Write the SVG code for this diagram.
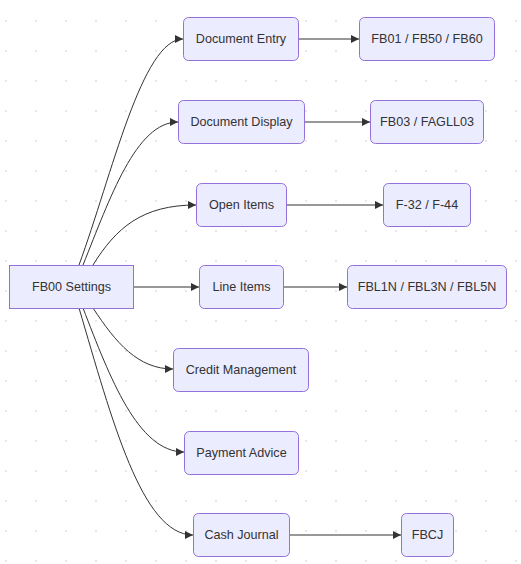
<svg xmlns="http://www.w3.org/2000/svg" width="521" height="564" viewBox="0 0 521 564">
<style>
.node rect{fill:#ECECFF;stroke:#9370DB;stroke-width:1}
.node text{font-family:"Liberation Sans",Arial,sans-serif;font-size:12.6px;fill:#333;text-anchor:middle;dominant-baseline:central}
.edges path{fill:none;stroke:#333;stroke-width:1}
</style>
<defs>
<pattern id="dots" x="0" y="0" width="30" height="30" patternUnits="userSpaceOnUse">
<circle cx="6" cy="21" r="1.1" fill="#e2e2e2"/>
</pattern>
<marker id="arrow" viewBox="0 0 10 10" refX="10" refY="5" markerWidth="8" markerHeight="8" markerUnits="userSpaceOnUse" orient="auto">
<path d="M0,0 L10,5 L0,10 z" fill="#333"/>
</marker>
</defs>
<rect width="521" height="564" fill="#fff"/>
<rect width="521" height="564" fill="url(#dots)"/>
<g class="edges">
<path d="M79,265 C112,175 142,39 183,39" marker-end="url(#arrow)"/>
<path d="M83,265 C110,198 136,122 178,122" marker-end="url(#arrow)"/>
<path d="M93,265 C116,228 142,205 196,205" marker-end="url(#arrow)"/>
<path d="M133,287 L199,287" marker-end="url(#arrow)"/>
<path d="M93,308 C116,343 138,369 173,369" marker-end="url(#arrow)"/>
<path d="M83,308 C110,378 138,452 184,452" marker-end="url(#arrow)"/>
<path d="M79,308 C112,420 142,535 193,535" marker-end="url(#arrow)"/>
<path d="M298,39 L359,39" marker-end="url(#arrow)"/>
<path d="M304,122 L370,122" marker-end="url(#arrow)"/>
<path d="M286,205 L383,205" marker-end="url(#arrow)"/>
<path d="M283,287 L347,287" marker-end="url(#arrow)"/>
<path d="M289,535 L401,535" marker-end="url(#arrow)"/>
</g>
<g id="fb00" class="node"><rect x="9.5" y="265.5" width="124" height="43"/><text x="71.5" y="286.5">FB00 Settings</text></g>
<g id="docentry" class="node"><rect x="183.5" y="17.5" width="115" height="43" rx="5"/><text x="241" y="38.5">Document Entry</text></g>
<g id="fb01" class="node"><rect x="359.5" y="17.5" width="135" height="43" rx="5"/><text x="427" y="38.5">FB01 / FB50 / FB60</text></g>
<g id="docdisplay" class="node"><rect x="178.5" y="100.5" width="126" height="43" rx="5"/><text x="241.5" y="121.5">Document Display</text></g>
<g id="fb03" class="node"><rect x="370.5" y="100.5" width="113" height="43" rx="5"/><text x="427" y="121.5">FB03 / FAGLL03</text></g>
<g id="openitems" class="node"><rect x="196.5" y="183.5" width="90" height="43" rx="5"/><text x="241.5" y="204.5">Open Items</text></g>
<g id="f32" class="node"><rect x="383.5" y="183.5" width="87" height="43" rx="5"/><text x="427" y="204.5">F-32 / F-44</text></g>
<g id="lineitems" class="node"><rect x="199.5" y="265.5" width="84" height="43" rx="5"/><text x="241.5" y="286.5">Line Items</text></g>
<g id="fbl1n" class="node"><rect x="347.5" y="265.5" width="159" height="43" rx="5"/><text x="427" y="286.5">FBL1N / FBL3N / FBL5N</text></g>
<g id="credit" class="node"><rect x="173.5" y="348.5" width="135" height="43" rx="5"/><text x="241" y="369.5">Credit Management</text></g>
<g id="payment" class="node"><rect x="184.5" y="431.5" width="114" height="43" rx="5"/><text x="241.5" y="452.5">Payment Advice</text></g>
<g id="cashjournal" class="node"><rect x="193.5" y="513.5" width="96" height="43" rx="5"/><text x="241.5" y="534.5">Cash Journal</text></g>
<g id="fbcj" class="node"><rect x="401.5" y="513.5" width="52" height="43" rx="5"/><text x="427.5" y="534.5">FBCJ</text></g>
</svg>
